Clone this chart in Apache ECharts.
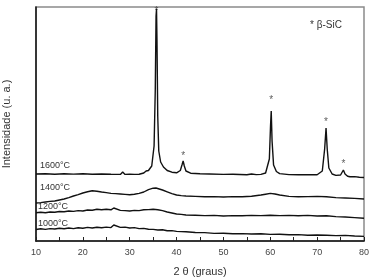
<!DOCTYPE html>
<html>
<head>
<meta charset="utf-8">
<script src="https://cdn.jsdelivr.net/npm/echarts@6/dist/echarts.min.js"></script>
<style>
  html, body { margin: 0; padding: 0; background: #fff; }
  #chart { width: 373px; height: 279px; }
</style>
</head>
<body>
<div id="chart"></div>
<script>
// 2θ em graus e intensidade (u.a.)
var t1000 = [[10,11.5],[11,12.3],[12,11.6],[13,12.4],[14,12],[15,12.8],[16,12.2],[17,13],[18,12.4],[19,13.2],[20,12.8],[21,13.6],[22,13],[23,13.8],[24,13.2],[25,13.9],[26,13.4],[26.6,16],[27,14],[28,13.6],[29,13.9],[30,13],[31,13.4],[32,12.4],[33,12.6],[34,11.8],[35,11.6],[36,11],[37,11.2],[38,10.2],[39,10.4],[40,9.6],[42,9.2],[44,8.5],[46,8.4],[48,7.6],[50,7.8],[52,7.2],[54,7.4],[56,7],[58,7.2],[60,6.6],[62,6.8],[64,6.2],[66,6.4],[68,5.8],[70,6],[72,5.8],[74,5.4],[76,5.6],[78,5],[80,4.6]];
var t1200 = [[10,28.3],[11,28.8],[12,28.2],[13,29],[14,28.8],[15,29.5],[16,29.2],[17,30],[18,29.6],[19,30.4],[20,30],[21,31],[22,30.8],[23,31.7],[24,31.2],[25,31.8],[26,31.2],[26.6,33],[27,31.4],[28,30.6],[29,30.4],[30,30],[31,30.6],[32,30.4],[33,31.2],[34,31.4],[35,31.7],[36,31.2],[37,30.4],[38,29],[39,28],[40,27],[41,26.6],[42,26],[44,25.8],[46,25.4],[48,25.6],[50,25],[52,25.4],[54,25.2],[56,25.6],[58,25.4],[60,25.8],[62,25.4],[64,25.6],[66,25.2],[68,25.6],[70,25],[72,25.2],[74,24.4],[76,24],[78,23.4],[80,22.7]];
var t1400 = [[10,38],[11,38.4],[12,39],[13,39.6],[14,40],[15,41],[16,42],[17,43.4],[18,45],[19,46.4],[20,48],[21,49.2],[22,50.2],[23,49.8],[24,49],[25,48.4],[26,47.6],[27,47.4],[28,47],[29,46.6],[30,46.2],[31,46.8],[32,47.6],[33,49],[34,51.4],[35,52.8],[35.6,53],[36,52.6],[37,51],[38,49.2],[39,47.4],[40,46],[41,45.4],[42,45],[44,44.6],[46,44.2],[48,44.4],[50,44],[52,44.4],[54,44.2],[56,44.8],[58,46],[59,46.8],[60,47.6],[61,47],[62,46],[64,44.6],[66,44.2],[68,44.4],[70,44.6],[72,44.2],[74,43.4],[76,43],[78,42.6],[80,42]];
var t1600 = [[10,67],[12,67.3],[14,66.8],[16,67.2],[18,66.9],[20,67.2],[22,66.8],[24,67],[26,66.7],[28,66.6],[28.5,69],[29,66.6],[30,66.8],[31,66.6],[32,66.8],[33,68],[33.5,70],[34,70.5],[34.7,75],[35.2,95],[35.45,150],[35.62,225],[35.72,232],[35.82,200],[35.98,125],[36.2,90],[36.6,79],[37.2,74],[38,70.5],[39,68.8],[40,68.2],[40.8,70.5],[41.15,76],[41.4,80],[41.65,75],[42,70],[43,67.8],[45,67.2],[47,67],[50,66.6],[52,66.8],[55,66.2],[56,67],[57,66.4],[58,66.6],[59,68],[59.8,82],[60.05,115],[60.2,130],[60.38,100],[60.7,76],[61.3,69.5],[62,67.4],[64,66.4],[66,66.2],[68,66.4],[70,66.2],[71.1,70],[71.6,92],[71.9,113],[72.15,92],[72.5,73],[73.2,67],[74,65.6],[75,66],[75.3,68],[75.6,71],[75.95,67],[76.5,64.8],[77,64.2],[78,64.4],[79,63.8],[80,63.5]];

// asteriscos β-SiC sobre os picos
var starX = [35.7, 41.4, 60.2, 71.9, 75.6];
var starY = [230, 85, 141, 119, 77];

var xTicks = [10, 20, 30, 40, 50, 60, 70, 80];
var curveNames = ['1000°C', '1200°C', '1400°C', '1600°C'];

var FONT = '"Liberation Sans", Arial, sans-serif';

var chart = echarts.init(document.getElementById('chart'));

function curve(name, data) {
  return {
    name: name,
    type: 'line',
    data: data,
    symbol: 'none',
    animation: false,
    lineStyle: { color: '#111', width: 1.4 }
  };
}

var starData = [];
for (var i = 0; i < starX.length; i++) {
  starData.push([starX[i], starY[i]]);
}

chart.setOption({
  animation: false,
  grid: {
    left: 36, right: 9, top: 7, bottom: 38,
    outerBoundsMode: 'none',
    containLabel: false,
    show: true,
    borderColor: '#8a8a8a',
    borderWidth: 1.5
  },
  xAxis: {
    type: 'value',
    min: 10, max: 80, interval: 10,
    name: '2 θ (graus)',
    nameLocation: 'middle',
    nameGap: 25,
    nameTextStyle: { fontFamily: FONT, fontSize: 11, color: '#333' },
    axisLine: { lineStyle: { color: '#111', width: 1.5 } },
    axisTick: { inside: true, length: 4, lineStyle: { color: '#222' } },
    minorTick: { show: true, splitNumber: 2, length: 4, lineStyle: { color: '#222' } },
    axisLabel: {
      fontFamily: FONT, fontSize: 9, color: '#444', margin: 7,
      formatter: function (v) { return xTicks.indexOf(v) >= 0 ? v : ''; }
    },
    splitLine: { show: false }
  },
  yAxis: {
    type: 'value',
    min: 0, max: 234,
    name: 'Intensidade (u. a.)',
    nameLocation: 'middle',
    nameGap: 24,
    nameTextStyle: { fontFamily: FONT, fontSize: 11, color: '#333' },
    axisLine: { show: true, lineStyle: { color: '#111', width: 1.5 } },
    axisTick: { show: false },
    axisLabel: { show: false },
    splitLine: { show: false }
  },
  graphic: [
    { type: 'text', left: 40, top: 161, style: { text: curveNames[3], fontFamily: FONT, fontSize: 9, fill: '#333' } },
    { type: 'text', left: 40, top: 183, style: { text: curveNames[2], fontFamily: FONT, fontSize: 9, fill: '#333' } },
    { type: 'text', left: 38, top: 202, style: { text: curveNames[1], fontFamily: FONT, fontSize: 9, fill: '#333' } },
    { type: 'text', left: 38, top: 219, style: { text: curveNames[0], fontFamily: FONT, fontSize: 9, fill: '#333' } },
    { type: 'text', left: 310, top: 20, style: { text: '* β-SiC', fontFamily: FONT, fontSize: 10, fill: '#333' } }
  ],
  series: [
    curve(curveNames[0], t1000),
    curve(curveNames[1], t1200),
    curve(curveNames[2], t1400),
    curve(curveNames[3], t1600),
    {
      type: 'scatter',
      data: starData,
      symbolSize: 0,
      silent: true,
      label: {
        show: true, position: 'inside', formatter: '*',
        fontFamily: FONT, fontSize: 10, color: '#333'
      }
    }
  ]
});
</script>
</body>
</html>
